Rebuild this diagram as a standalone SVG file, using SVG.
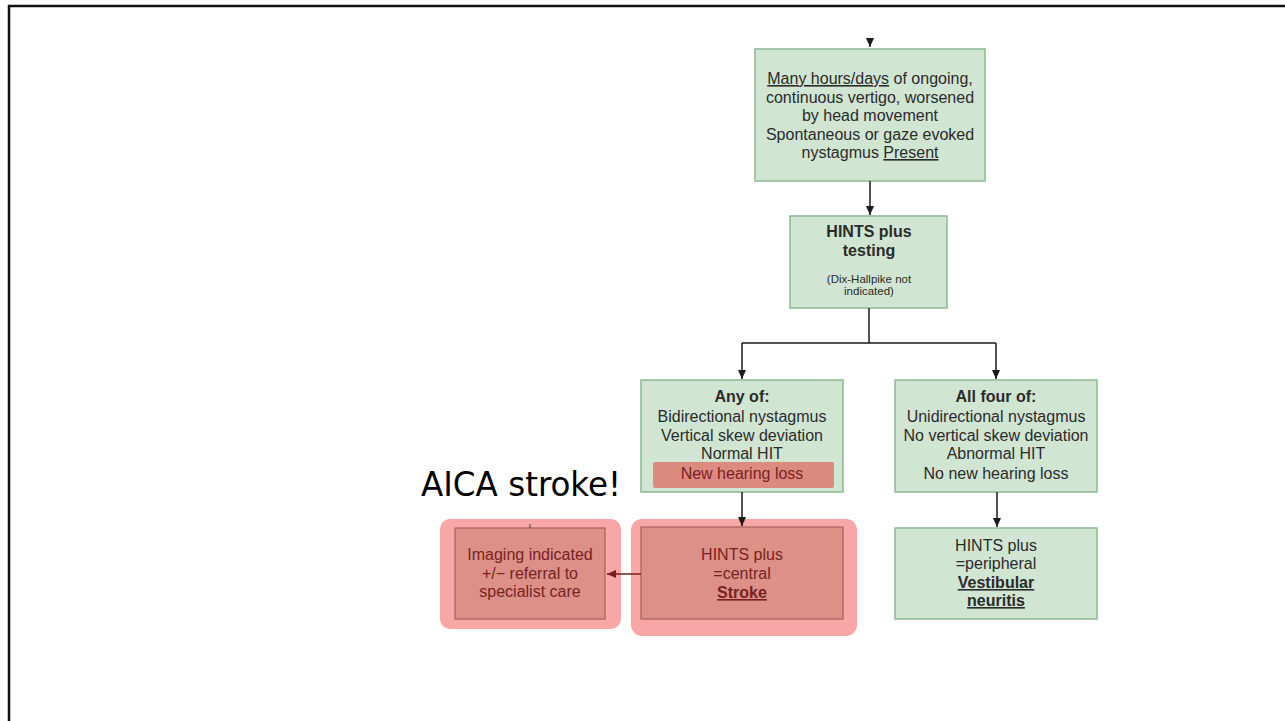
<svg xmlns="http://www.w3.org/2000/svg" width="1285" height="721" viewBox="0 0 1285 721">
  <style>
    .box { fill: #d1e5d3; stroke: #8bb893; stroke-width: 1.5; }
    .halo { fill: #f8a6a6; }
    .hot { fill: #dc9087; stroke: #a8625c; stroke-width: 1.2; }
    .t { font-family: "Liberation Sans", Arial, sans-serif; font-size: 16px; fill: #2b2b2b; text-anchor: middle; }
    .b { font-weight: bold; font-size: 16px; }
    .s { font-size: 11.5px; }
    .r { fill: #7a2222; }
    .u { text-decoration: underline; }
    .ln { fill: none; stroke: #1a1a1a; stroke-width: 1.5; }
    .lnr { fill: none; stroke: #7a1f1f; stroke-width: 1.5; }
  </style>
  <defs>
    <marker id="ah" markerWidth="10" markerHeight="10" refX="9" refY="5" orient="auto" markerUnits="userSpaceOnUse">
      <path d="M0,1 L9,5 L0,9 Z" fill="#1a1a1a"/>
    </marker>
    <marker id="ahr" markerWidth="10" markerHeight="10" refX="9" refY="5" orient="auto" markerUnits="userSpaceOnUse">
      <path d="M0,1 L9,5 L0,9 Z" fill="#7a1f1f"/>
    </marker>
  </defs>

  <rect width="1285" height="721" fill="#ffffff"/>
  <!-- slide frame -->
  <path d="M9,721 L9,6 L1285,6" fill="none" stroke="#111" stroke-width="2.5"/>

  <g id="presentation">
    <rect class="box" x="755" y="49" width="230" height="132"/>
    <text class="t" x="870" y="84"><tspan class="u">Many hours/days</tspan> of ongoing,</text>
    <text class="t" x="870" y="103">continuous vertigo, worsened</text>
    <text class="t" x="870" y="121">by head movement</text>
    <text class="t" x="870" y="140">Spontaneous or gaze evoked</text>
    <text class="t" x="870" y="158">nystagmus <tspan class="u">Present</tspan></text>
  </g>

  <g id="hints-testing">
    <rect class="box" x="790" y="216" width="157" height="92"/>
    <text class="t b" x="869" y="237">HINTS plus</text>
    <text class="t b" x="869" y="256">testing</text>
    <text class="t s" x="869" y="283">(Dix-Hallpike not</text>
    <text class="t s" x="869" y="295">indicated)</text>
  </g>

  <g id="central-signs">
    <rect class="box" x="641" y="380" width="202" height="112"/>
    <text class="t b" x="742" y="402">Any of:</text>
    <text class="t" x="742" y="422">Bidirectional nystagmus</text>
    <text class="t" x="742" y="441">Vertical skew deviation</text>
    <text class="t" x="742" y="459">Normal HIT</text>
    <rect x="653" y="462" width="181" height="26" rx="2" fill="#dd8a80"/>
    <text class="t r" x="742" y="479">New hearing loss</text>
  </g>

  <g id="peripheral-signs">
    <rect class="box" x="895" y="380" width="202" height="112"/>
    <text class="t b" x="996" y="402">All four of:</text>
    <text class="t" x="996" y="422">Unidirectional nystagmus</text>
    <text class="t" x="996" y="441">No vertical skew deviation</text>
    <text class="t" x="996" y="459">Abnormal HIT</text>
    <text class="t" x="996" y="479">No new hearing loss</text>
  </g>

  <g id="imaging">
    <rect class="halo" x="440" y="519" width="181" height="110" rx="10"/>
    <rect class="hot" x="455" y="528" width="150" height="91"/>
    <text class="t r" x="530" y="560">Imaging indicated</text>
    <text class="t r" x="530" y="579">+/− referral to</text>
    <text class="t r" x="530" y="597">specialist care</text>
  </g>

  <g id="stroke">
    <rect class="halo" x="631" y="519" width="226" height="117" rx="11"/>
    <rect class="hot" x="641" y="527" width="202" height="92"/>
    <text class="t r" x="742" y="560">HINTS plus</text>
    <text class="t r" x="742" y="579">=central</text>
    <text class="t b r u" x="742" y="598">Stroke</text>
  </g>

  <g id="neuritis">
    <rect class="box" x="895" y="528" width="202" height="91"/>
    <text class="t" x="996" y="551">HINTS plus</text>
    <text class="t" x="996" y="569">=peripheral</text>
    <text class="t b u" x="996" y="588">Vestibular</text>
    <text class="t b u" x="996" y="606">neuritis</text>
  </g>

  <g id="connectors">
    <path class="ln" d="M870,43 L870,47" marker-end="url(#ah)"/>
    <path class="ln" d="M870,181 L870,215" marker-end="url(#ah)"/>
    <path class="ln" d="M869,308 L869,343 M742,343 L996,343"/>
    <path class="ln" d="M742,343 L742,379" marker-end="url(#ah)"/>
    <path class="ln" d="M996,343 L996,379" marker-end="url(#ah)"/>
    <path class="ln" d="M742,492 L742,526" marker-end="url(#ah)"/>
    <path class="ln" d="M997,492 L997,527" marker-end="url(#ah)"/>
    <path class="lnr" d="M641,574 L607,574" marker-end="url(#ahr)"/>
    <path d="M530,524 L530,528" stroke="#444" stroke-width="1"/>
  </g>

  <g id="aica-label">
    <text x="421" y="496" font-family="'DejaVu Sans Condensed', 'DejaVu Sans', Verdana, sans-serif" font-size="33" fill="#000" textLength="200" lengthAdjust="spacingAndGlyphs">AICA stroke!</text>
  </g>
</svg>
